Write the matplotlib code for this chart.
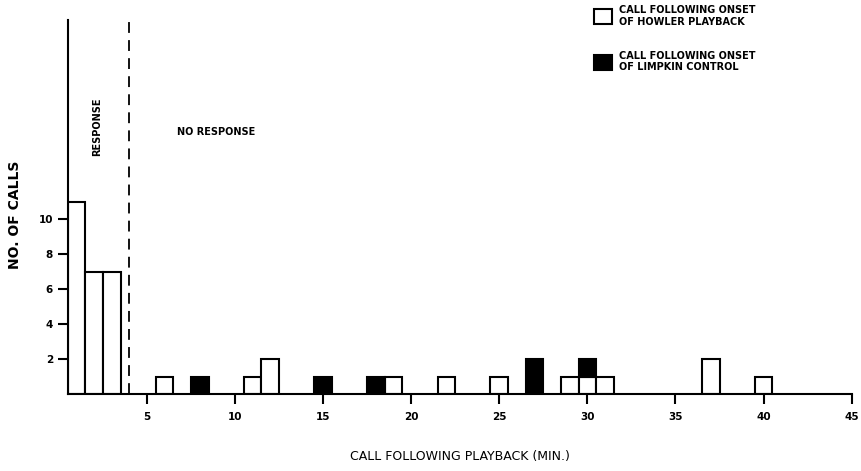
import matplotlib.pyplot as plt
from matplotlib.patches import Patch
import numpy as np

# Calls after onset of howler playback (minute, count)
howler_min = [1, 2, 3, 6, 11, 12, 19, 22, 25, 29, 30, 31, 37, 40]
howler_n = [11, 7, 7, 1, 1, 2, 1, 1, 1, 1, 1, 1, 2, 1]

# Calls after onset of limpkin control (minute, count)
limpkin_min = [8, 15, 18, 27, 30]
limpkin_n = [1, 1, 1, 2, 1]

x_ticks = [5, 10, 15, 20, 25, 30, 35, 40, 45]
y_ticks = [2, 4, 6, 8, 10]

plt.rcParams['font.family'] = 'DejaVu Sans'
plt.rcParams['font.weight'] = 'bold'

fig = plt.figure(figsize=(8.62, 4.71), dpi=100)
ax = fig.add_axes([0.0785, 0.1635, 0.9095, 0.794])

ax.bar(howler_min, howler_n, width=1.0, color='white', edgecolor='black', linewidth=1.5)

# limpkin bars sit on top of any howler bar in the same minute
stack = dict(zip(howler_min, howler_n))
limpkin_bottom = [stack.get(m, 0) for m in limpkin_min]
ax.bar(limpkin_min, limpkin_n, width=1.0, bottom=limpkin_bottom,
       color='black', edgecolor='black', linewidth=1.5)

ax.axvline(4.0, color='black', linestyle=(0, (6, 4)), linewidth=1.3)

ax.set_xlim(0.5, 45)
ax.set_ylim(0, 21.4)
ax.set_xticks(x_ticks)
ax.set_yticks(y_ticks)
ax.tick_params(axis='both', direction='out', length=7, width=1.5, labelsize=7.5)
ax.tick_params(axis='x', pad=6)
for s in ['top', 'right']:
    ax.spines[s].set_visible(False)
for s in ['left', 'bottom']:
    ax.spines[s].set_linewidth(1.5)

ax.set_ylabel('NO. OF CALLS', fontsize=10, fontweight='bold')
ax.yaxis.set_label_coords(-0.058, 0.48)
ax.set_xlabel('CALL FOLLOWING PLAYBACK (MIN.)', fontsize=9, fontweight='normal', labelpad=20)

ax.text(2.2, 15.3, 'RESPONSE', rotation=90, fontsize=7, ha='center', va='center')
ax.text(6.7, 15.0, 'NO RESPONSE', fontsize=7, ha='left', va='center')

handles = [Patch(facecolor='white', edgecolor='black', linewidth=1.5),
           Patch(facecolor='black', edgecolor='black', linewidth=1.5)]
labels = ['CALL FOLLOWING ONSET\nOF HOWLER PLAYBACK',
          'CALL FOLLOWING ONSET\nOF LIMPKIN CONTROL']
fig.legend(handles, labels, loc='upper left', bbox_to_anchor=(0.679, 1.008),
           frameon=False, fontsize=7, handlelength=1.8, handleheight=2.0,
           handletextpad=0.8, labelspacing=2.5)

fig.savefig('out.png', dpi=100)
